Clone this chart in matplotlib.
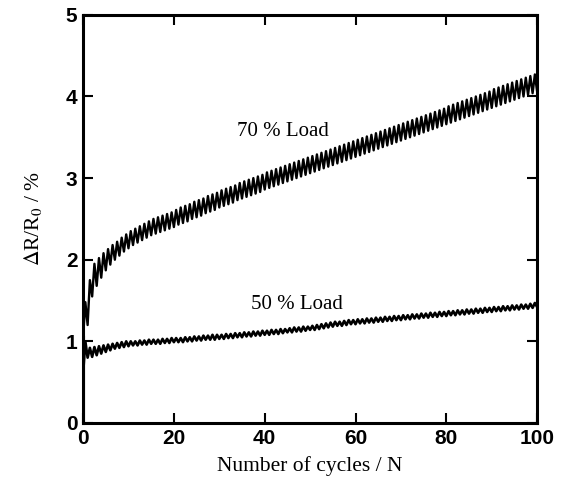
import matplotlib
matplotlib.use("Agg")
import matplotlib.pyplot as plt


# resistance change per cycle
# valley at the start of each cycle (N = 0..100), peak half way through it (N = 0.5..99.5)
load70_valley = [
    1.05, 1.20, 1.55, 1.68, 1.78, 1.87, 1.94, 2.00, 2.05, 2.10,
    2.14, 2.18, 2.21, 2.24, 2.27, 2.30, 2.32, 2.34, 2.36, 2.38,
    2.40, 2.43, 2.45, 2.47, 2.50, 2.52, 2.54, 2.57, 2.59, 2.61,
    2.64, 2.66, 2.68, 2.70, 2.73, 2.75, 2.77, 2.79, 2.81, 2.83,
    2.86, 2.88, 2.90, 2.92, 2.94, 2.96, 2.98, 3.00, 3.02, 3.04,
    3.06, 3.08, 3.10, 3.12, 3.14, 3.16, 3.18, 3.20, 3.22, 3.24,
    3.26, 3.28, 3.30, 3.32, 3.34, 3.36, 3.38, 3.40, 3.42, 3.44,
    3.46, 3.48, 3.50, 3.52, 3.54, 3.56, 3.58, 3.60, 3.62, 3.64,
    3.66, 3.68, 3.70, 3.72, 3.74, 3.76, 3.78, 3.80, 3.82, 3.84,
    3.86, 3.88, 3.90, 3.92, 3.94, 3.96, 3.98, 4.00, 4.02, 4.04,
    4.06,
]
load70_peak = [
    1.48, 1.75, 1.95, 2.02, 2.08, 2.13, 2.18, 2.22, 2.27, 2.31,
    2.35, 2.38, 2.41, 2.44, 2.47, 2.50, 2.52, 2.54, 2.56, 2.58,
    2.61, 2.64, 2.66, 2.68, 2.71, 2.73, 2.75, 2.78, 2.80, 2.82,
    2.85, 2.87, 2.89, 2.91, 2.94, 2.96, 2.98, 3.00, 3.02, 3.04,
    3.07, 3.09, 3.11, 3.13, 3.15, 3.17, 3.19, 3.21, 3.23, 3.25,
    3.27, 3.29, 3.31, 3.33, 3.35, 3.37, 3.39, 3.41, 3.43, 3.45,
    3.47, 3.49, 3.51, 3.53, 3.55, 3.57, 3.59, 3.61, 3.63, 3.65,
    3.67, 3.69, 3.71, 3.73, 3.75, 3.77, 3.79, 3.81, 3.83, 3.85,
    3.88, 3.90, 3.92, 3.94, 3.96, 3.98, 4.00, 4.02, 4.04, 4.06,
    4.09, 4.11, 4.13, 4.15, 4.17, 4.19, 4.21, 4.23, 4.25, 4.27,
]
load50_valley = [
    0.60, 0.80, 0.81, 0.83, 0.85, 0.87, 0.89, 0.91, 0.92, 0.93,
    0.94, 0.95, 0.95, 0.96, 0.96, 0.97, 0.97, 0.97, 0.98, 0.98,
    0.99, 0.99, 0.99, 1.00, 1.00, 1.01, 1.01, 1.02, 1.02, 1.02,
    1.03, 1.03, 1.04, 1.04, 1.05, 1.05, 1.06, 1.06, 1.07, 1.07,
    1.08, 1.08, 1.09, 1.09, 1.10, 1.11, 1.11, 1.12, 1.12, 1.13,
    1.14, 1.14, 1.15, 1.16, 1.17, 1.18, 1.19, 1.19, 1.20, 1.21,
    1.21, 1.22, 1.22, 1.23, 1.23, 1.24, 1.24, 1.25, 1.25, 1.26,
    1.26, 1.27, 1.27, 1.28, 1.28, 1.29, 1.29, 1.30, 1.30, 1.31,
    1.31, 1.32, 1.32, 1.33, 1.33, 1.34, 1.34, 1.35, 1.35, 1.36,
    1.36, 1.37, 1.37, 1.38, 1.38, 1.39, 1.39, 1.40, 1.40, 1.41,
    1.42,
]
load50_peak = [
    1.00, 0.92, 0.93, 0.94, 0.95, 0.96, 0.97, 0.98, 0.99, 1.00,
    1.00, 1.00, 1.01, 1.01, 1.02, 1.02, 1.02, 1.03, 1.03, 1.04,
    1.04, 1.04, 1.05, 1.05, 1.06, 1.06, 1.07, 1.07, 1.08, 1.08,
    1.08, 1.09, 1.09, 1.10, 1.10, 1.11, 1.11, 1.12, 1.12, 1.13,
    1.13, 1.14, 1.14, 1.15, 1.15, 1.16, 1.17, 1.17, 1.18, 1.18,
    1.19, 1.20, 1.21, 1.22, 1.23, 1.24, 1.24, 1.25, 1.26, 1.26,
    1.27, 1.27, 1.28, 1.28, 1.29, 1.29, 1.30, 1.30, 1.31, 1.31,
    1.32, 1.32, 1.33, 1.33, 1.34, 1.34, 1.35, 1.35, 1.36, 1.36,
    1.37, 1.37, 1.38, 1.38, 1.39, 1.39, 1.40, 1.40, 1.41, 1.41,
    1.42, 1.42, 1.43, 1.43, 1.44, 1.44, 1.45, 1.45, 1.46, 1.47,
]

x_ticks = [0, 20, 40, 60, 80, 100]
y_ticks = [0, 1, 2, 3, 4, 5]


def zigzag(valley, peak):
    # alternate valley / peak to rebuild the cycling signal
    xs, ys = [], []
    for n in range(len(peak)):
        xs += [n, n + 0.5]
        ys += [valley[n], peak[n]]
    xs.append(len(peak))
    ys.append(valley[len(peak)])
    return xs, ys


plt.rcParams['mathtext.fontset'] = 'stix'
serif = ['Liberation Serif', 'DejaVu Serif']

fig = plt.figure(figsize=(5.69, 4.79), dpi=100)
ax = fig.add_axes([0.146, 0.117, 0.798, 0.852])

x70, y70 = zigzag(load70_valley, load70_peak)
x50, y50 = zigzag(load50_valley, load50_peak)
ax.plot(x70, y70, color='black', lw=1.7)
ax.plot(x50, y50, color='black', lw=1.9)

# start of each record, from zero up to the first reading
ax.plot([0.2, 0.2], [0.0, load70_valley[0]], color='black', lw=1.5)

ax.text(44, 3.57, '70 % Load', family=serif, fontsize=15, ha='center', va='center')
ax.text(47, 1.45, '50 % Load', family=serif, fontsize=15, ha='center', va='center')

ax.set_xlim(0, 100)
ax.set_ylim(0, 5)
ax.set_xticks(x_ticks)
ax.set_yticks(y_ticks)
ax.tick_params(direction='in', length=7, width=1.5, top=True, right=True,
               labelsize=15, pad=4)
for lab in ax.get_xticklabels() + ax.get_yticklabels():
    lab.set_family(['Liberation Sans', 'DejaVu Sans'])
    lab.set_fontweight('bold')
for sp in ax.spines.values():
    sp.set_linewidth(2.2)

ax.set_xlabel('Number of cycles / N', family=serif, fontsize=15.5, labelpad=6)
ax.set_ylabel(r'$\Delta$R/R$_0$ / %', family=serif, fontsize=15.5, labelpad=16)

fig.savefig('out.png', dpi=100)
